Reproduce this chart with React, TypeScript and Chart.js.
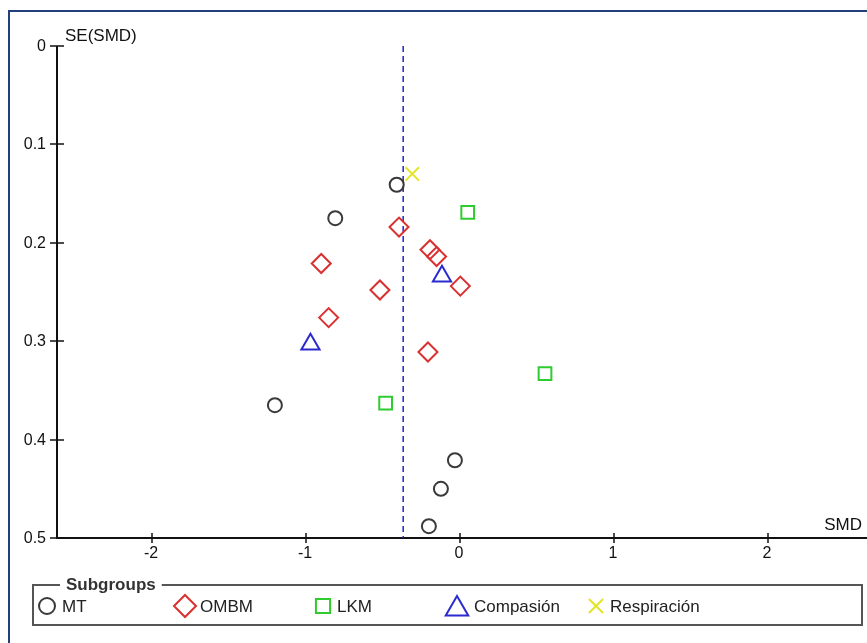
import { useEffect, useRef } from "react";
import { Chart, registerables } from "chart.js";
import { drawPoint } from "chart.js/helpers";

Chart.register(...registerables);

// Study effects (SMD) and their standard errors, per subgroup
const mtSMD = [-0.414, -0.813, -1.205, -0.036, -0.127, -0.205];
const mtSE = [0.141, 0.175, 0.365, 0.421, 0.450, 0.488];
const ombmSMD = [-0.399, -0.198, -0.155, -0.904, -0.001, -0.523, -0.856, -0.211];
const ombmSE = [0.184, 0.207, 0.214, 0.221, 0.244, 0.248, 0.276, 0.311];
const lkmSMD = [0.047, 0.549, -0.486];
const lkmSE = [0.169, 0.333, 0.363];
const compasionSMD = [-0.12, -0.974];
const compasionSE = [0.234, 0.303];
const respiracionSMD = [-0.313];
const respiracionSE = [0.130];

// Pooled estimate (vertical reference line)
const pooledSMD = -0.372;

const subgroupNames = ["MT", "OMBM", "LKM", "Compasión", "Respiración"];
const xTicks = [-2, -1, 0, 1, 2];
const xTickLabels = ["-2", "-1", "0", "1", "2"];
const yTicks = [0, 0.1, 0.2, 0.3, 0.4, 0.5];
const yTickLabels = ["0", "0.1", "0.2", "0.3", "0.4", "0.5"];

const FONT = '"Liberation Sans", Arial, sans-serif';

const pts = (xs: number[], ys: number[]) => xs.map((x, i) => ({ x, y: ys[i] }));

const markerStyles = [
  { pointStyle: "circle", radius: 7, legendRadius: 8, color: "#3a3a3a" },
  { pointStyle: "rectRot", radius: 9.5, legendRadius: 11, color: "#d93030" },
  { pointStyle: "rect", radius: 9, legendRadius: 10, color: "#2ecc2e" },
  { pointStyle: "triangle", radius: 10.5, legendRadius: 13, color: "#2b2bd0" },
  { pointStyle: "crossRot", radius: 9.5, legendRadius: 10, color: "#e4e428" },
];

const seriesX = [mtSMD, ombmSMD, lkmSMD, compasionSMD, respiracionSMD];
const seriesY = [mtSE, ombmSE, lkmSE, compasionSE, respiracionSE];

// Axes, frame and subgroup legend are painted by hand in RevMan style
const funnelFrame = {
  id: "funnelFrame",
  beforeDatasetsDraw(chart: any) {
    const { ctx, scales } = chart;
    const xs = scales.x;
    const ys = scales.y;
    ctx.save();

    // outer frame
    ctx.strokeStyle = "#22407c";
    ctx.lineWidth = 2;
    ctx.beginPath();
    ctx.moveTo(9, 643);
    ctx.lineTo(9, 11);
    ctx.lineTo(867, 11);
    ctx.stroke();

    const axX = xs.getPixelForValue(xs.min);
    const axY = ys.getPixelForValue(0.5);
    const topY = ys.getPixelForValue(0);

    ctx.strokeStyle = "#111";
    ctx.lineWidth = 2;
    ctx.beginPath();
    ctx.moveTo(axX, topY);
    ctx.lineTo(axX, axY);
    ctx.lineTo(xs.getPixelForValue(xs.max), axY);
    ctx.stroke();

    ctx.lineWidth = 1.5;
    ctx.fillStyle = "#111";
    ctx.font = `16px ${FONT}`;

    // y ticks
    ctx.textAlign = "right";
    ctx.textBaseline = "middle";
    yTicks.forEach((v, i) => {
      const py = Math.round(ys.getPixelForValue(v));
      ctx.beginPath();
      ctx.moveTo(axX - 7, py);
      ctx.lineTo(axX + 7, py);
      ctx.stroke();
      ctx.fillText(yTickLabels[i], axX - 11, py + 1);
    });

    // x ticks
    ctx.textAlign = "center";
    ctx.textBaseline = "top";
    xTicks.forEach((v, i) => {
      const px = Math.round(xs.getPixelForValue(v));
      ctx.beginPath();
      ctx.moveTo(px, axY - 5);
      ctx.lineTo(px, axY + 5);
      ctx.stroke();
      ctx.fillText(xTickLabels[i], px - 1, axY + 8);
    });

    // axis titles
    ctx.font = `17px ${FONT}`;
    ctx.textAlign = "left";
    ctx.textBaseline = "middle";
    ctx.fillText("SE(SMD)", axX + 8, topY - 10);
    ctx.textAlign = "right";
    ctx.fillText("SMD", 862, axY - 13);

    ctx.restore();
  },
  afterDraw(chart: any) {
    const { ctx } = chart;
    ctx.save();

    // legend box
    ctx.strokeStyle = "#555";
    ctx.lineWidth = 2;
    ctx.strokeRect(33, 585, 829, 40);

    ctx.font = `bold 17px ${FONT}`;
    const title = "Subgroups";
    const tw = ctx.measureText(title).width;
    ctx.fillStyle = "#fff";
    ctx.fillRect(60, 578, tw + 12, 14);
    ctx.fillStyle = "#333";
    ctx.textAlign = "left";
    ctx.textBaseline = "middle";
    ctx.fillText(title, 66, 585);

    const markerX = [47, 185, 323, 457, 596];
    const textX = [62, 200, 337, 474, 610];
    const rowY = 606;
    ctx.font = `17px ${FONT}`;
    subgroupNames.forEach((name, i) => {
      const m = markerStyles[i];
      ctx.strokeStyle = m.color;
      ctx.fillStyle = "rgba(0,0,0,0)";
      ctx.lineWidth = 2;
      drawPoint(
        ctx,
        { pointStyle: m.pointStyle, radius: m.legendRadius, borderWidth: 2, rotation: 0 } as any,
        markerX[i],
        i === 3 ? rowY + 3 : rowY
      );
      ctx.fillStyle = "#222";
      ctx.fillText(name, textX[i], rowY + 1);
    });

    ctx.restore();
  },
};

export default function App() {
  const canvasRef = useRef<HTMLCanvasElement | null>(null);

  useEffect(() => {
    const canvas = canvasRef.current;
    if (!canvas) return;

    const datasets: any[] = subgroupNames.map((name, i) => ({
      type: "scatter",
      label: name,
      data: pts(seriesX[i], seriesY[i]),
      pointStyle: markerStyles[i].pointStyle,
      pointRadius: markerStyles[i].radius,
      pointBorderWidth: 2,
      pointBorderColor: markerStyles[i].color,
      pointBackgroundColor: "rgba(0,0,0,0)",
      borderColor: markerStyles[i].color,
      backgroundColor: "rgba(0,0,0,0)",
      showLine: false,
      order: 1,
    }));

    datasets.push({
      type: "line",
      label: "Pooled",
      data: [
        { x: pooledSMD, y: 0 },
        { x: pooledSMD, y: 0.5 },
      ],
      borderColor: "#2424c8",
      borderWidth: 1.5,
      borderDash: [6, 4],
      pointRadius: 0,
      fill: false,
      order: 2,
    });

    const chart = new Chart(canvas, {
      type: "scatter",
      data: { datasets },
      options: {
        responsive: false,
        animation: false,
        devicePixelRatio: 1,
        layout: { autoPadding: false, padding: { left: 57, top: 46, right: 0, bottom: 105 } },
        plugins: {
          legend: { display: false },
          tooltip: { enabled: false },
        },
        scales: {
          x: { type: "linear", min: -2.62, max: 2.64, display: false },
          y: { type: "linear", min: 0, max: 0.5, reverse: true, display: false },
        },
      },
      plugins: [funnelFrame],
    } as any);

    return () => chart.destroy();
  }, []);

  return (
    <div
      style={{
        position: "fixed",
        left: 0,
        top: 0,
        width: 867,
        height: 643,
        background: "#fff",
        overflow: "hidden",
      }}
    >
      <canvas
        ref={canvasRef}
        width={867}
        height={643}
        style={{ display: "block", width: 867, height: 643 }}
      />
    </div>
  );
}
